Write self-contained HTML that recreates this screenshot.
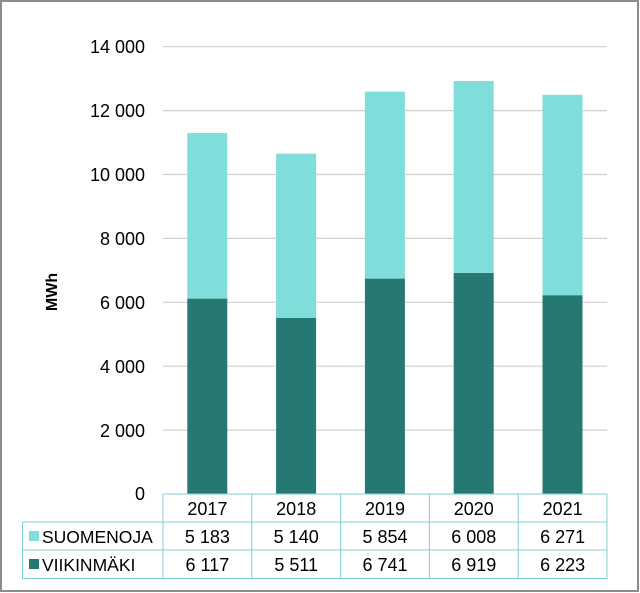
<!DOCTYPE html>
<html><head><meta charset="utf-8"><style>
body{margin:0;background:#fff}
svg{display:block}
text{font-family:"Liberation Sans",sans-serif;fill:#000}
</style></head><body>
<svg width="640" height="593" viewBox="0 0 640 593" xmlns="http://www.w3.org/2000/svg">
<rect x="1" y="1" width="637" height="590" fill="#fff" stroke="#8c8c8c" stroke-width="2"/>
<g stroke="#d0d0d0" stroke-width="1.2">
<line x1="163" x2="607" y1="46.7" y2="46.7"/>
<line x1="163" x2="607" y1="110.6" y2="110.6"/>
<line x1="163" x2="607" y1="174.5" y2="174.5"/>
<line x1="163" x2="607" y1="238.4" y2="238.4"/>
<line x1="163" x2="607" y1="302.3" y2="302.3"/>
<line x1="163" x2="607" y1="366.2" y2="366.2"/>
<line x1="163" x2="607" y1="430.1" y2="430.1"/>
</g>
<g font-size="18" text-anchor="end">
<text x="145" y="53">14 000</text>
<text x="145" y="117">12 000</text>
<text x="145" y="181">10 000</text>
<text x="145" y="245">8 000</text>
<text x="145" y="309">6 000</text>
<text x="145" y="373">4 000</text>
<text x="145" y="437">2 000</text>
<text x="145" y="500">0</text>
</g>
<text transform="translate(57,292) rotate(-90)" font-size="16" font-weight="bold" text-anchor="middle">MWh</text>
<g>
<rect x="187.3" y="298.6" width="40" height="195.4" fill="#267873"/>
<rect x="187.3" y="133.0" width="40" height="165.6" fill="#80deda"/>
<rect x="276.1" y="317.9" width="40" height="176.1" fill="#267873"/>
<rect x="276.1" y="153.7" width="40" height="164.2" fill="#80deda"/>
<rect x="364.9" y="278.6" width="40" height="215.4" fill="#267873"/>
<rect x="364.9" y="91.6" width="40" height="187.0" fill="#80deda"/>
<rect x="453.7" y="272.9" width="40" height="221.1" fill="#267873"/>
<rect x="453.7" y="81.0" width="40" height="191.9" fill="#80deda"/>
<rect x="542.5" y="295.2" width="40" height="198.8" fill="#267873"/>
<rect x="542.5" y="94.8" width="40" height="200.4" fill="#80deda"/>
</g>
<g stroke="#7fd0d6" stroke-width="1" fill="none">
<line x1="163" x2="607" y1="494" y2="494"/>
<line x1="22.5" x2="607" y1="522" y2="522"/>
<line x1="22.5" x2="607" y1="550" y2="550"/>
<line x1="22.5" x2="607" y1="578.5" y2="578.5"/>
<line x1="22.5" x2="22.5" y1="522" y2="578.5"/>
<line x1="163" x2="163" y1="494" y2="578.5"/>
<line x1="251.8" x2="251.8" y1="494" y2="578.5"/>
<line x1="340.6" x2="340.6" y1="494" y2="578.5"/>
<line x1="429.4" x2="429.4" y1="494" y2="578.5"/>
<line x1="518.2" x2="518.2" y1="494" y2="578.5"/>
<line x1="607" x2="607" y1="494" y2="578.5"/>
</g>
<g font-size="18" text-anchor="middle">
<text x="207.4" y="515">2017</text><text x="296.2" y="515">2018</text><text x="385" y="515">2019</text><text x="473.8" y="515">2020</text><text x="562.6" y="515">2021</text>
<text x="207.4" y="543">5 183</text><text x="296.2" y="543">5 140</text><text x="385" y="543">5 854</text><text x="473.8" y="543">6 008</text><text x="562.6" y="543">6 271</text>
<text x="207.4" y="571">6 117</text><text x="296.2" y="571">5 511</text><text x="385" y="571">6 741</text><text x="473.8" y="571">6 919</text><text x="562.6" y="571">6 223</text>
</g>
<rect x="29" y="531" width="10" height="10" fill="#80deda"/>
<rect x="29" y="559" width="10" height="10" fill="#267873"/>
<text x="42" y="543" font-size="17.5">SUOMENOJA</text>
<text x="42" y="571" font-size="17.5">VIIKINMÄKI</text>
</svg>
</body></html>
